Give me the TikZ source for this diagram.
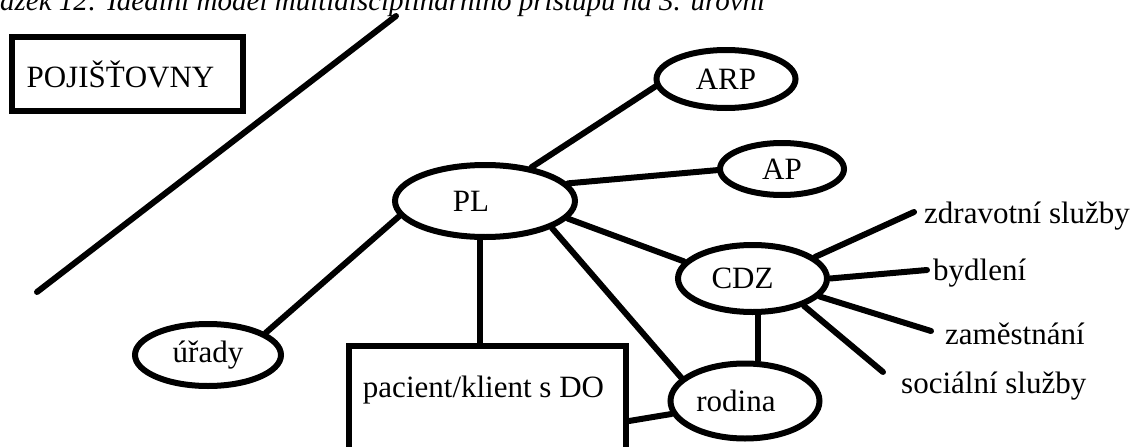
\documentclass[tikz,border=0pt]{standalone}
\usepackage{fontspec}
\setmainfont{Liberation Serif}
\usetikzlibrary{shapes.geometric}
\tikzset{
  x=1pt, y=-1pt,
  lbl/.style={font=\fontsize{31}{37}\selectfont, inner sep=0pt},
  oval/.style={ellipse, draw, line width=6pt, inner sep=0pt, font=\fontsize{31}{37}\selectfont},
  boxnode/.style={rectangle, draw, line width=6pt, inner sep=0pt, font=\fontsize{31}{37}\selectfont},
  conn/.style={line width=6pt, line cap=round},
}
\begin{document}
\begin{tikzpicture}
\useasboundingbox (0,0) rectangle (1130,447);
\fill[white] (0,0) rectangle (1130,447);

% caption (cut off at the top)
\node[anchor=base west, inner sep=0pt, font=\itshape\fontsize{29}{35}\selectfont] (cap) at (0,10)
  {ázek 12: Ideální model multidisciplinárního přístupu na 3. úrovni};

% insurance box and dividing line
\node[boxnode, minimum width=231pt, minimum height=74pt] (poj) at (127.5,74) {POJIŠŤOVNY\kern14pt};
\coordinate (d1) at (37,292);
\coordinate (d2) at (396,16);
\draw[conn] (d1) -- (d2);

% ellipses
\node[oval, minimum width=180pt, minimum height=72pt] (PL) at (485,201) {PL\kern28pt};
\node[oval, minimum width=139pt, minimum height=58pt] (ARP) at (726,79) {ARP};
\node[oval, minimum width=124pt, minimum height=52pt] (AP) at (782,169) {AP};
\node[oval, minimum width=149pt, minimum height=67pt] (CDZ) at (752.5,278.5) {CDZ\kern20pt};
\node[oval, minimum width=149pt, minimum height=75pt] (rodina) at (745,401) {rodina\kern18pt};
\node[oval, minimum width=146pt, minimum height=62pt] (urady) at (208,355) {úřady};

% patient box (runs off the bottom)
\node[boxnode, anchor=north, minimum width=277pt, text height=21pt, text depth=31pt, inner ysep=30pt] (pat) at (487.5,343) {pacient/klient s DO\kern8pt};

% free labels
\node[lbl, anchor=base west] (zdr) at (924,223) {zdravotní služby};
\node[lbl, anchor=base west] (byd) at (933,280) {bydlení};
\node[lbl, anchor=base west] (zam) at (945,344) {zaměstnání};
\node[lbl, anchor=base west] (soc) at (901,393) {sociální služby};
\coordinate (ezdr) at (914,212);
\coordinate (ebyd) at (927,270);
\coordinate (ezam) at (931,331);
\coordinate (esoc) at (883,372);

% connectors
\draw[conn] (PL.36) -- (ARP.186);
\draw[conn] (PL.12) -- (AP.181);
\draw[conn] (PL.-12.6) -- (CDZ.166);
\draw[conn] (PL.-22) -- (rodina.160.5);
\draw[conn] (PL.190.4) -- (urady.21.6);
\draw[conn] ([xshift=-5pt]PL.south) -- ([xshift=-5pt]PL.south |- pat.north);
\draw[conn] ([yshift=-19pt]pat.east) -- (rodina.190);
\draw[conn] ([xshift=5.5pt]CDZ.south) -- ([xshift=5.5pt]CDZ.south |- rodina.north);
\draw[conn] (CDZ.19.7) -- (ezdr);
\draw[conn] (CDZ.0) -- (ebyd);
\draw[conn] (CDZ.-15) -- (ezam);
\draw[conn] (CDZ.-28.4) -- (esoc);
\end{tikzpicture}
\end{document}
